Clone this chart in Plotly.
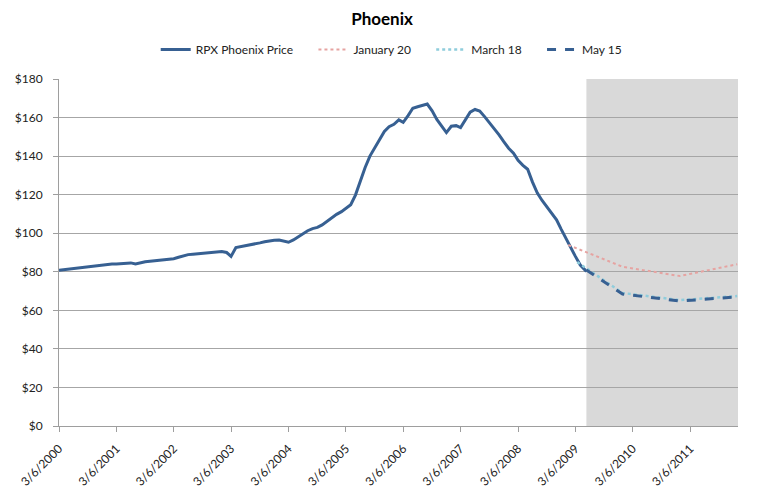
import pandas as pd
import plotly.graph_objects as go

# RPX Phoenix composite price, monthly readings from 3/6/2000, plus the 5/15/2009 print
price_start = "2000-03-06"
price_values = [
    80.8, 81.1, 81.4, 81.7, 82.0, 82.2, 82.6, 83.0, 83.3, 83.6, 83.9, 84.0,
    84.0, 84.2, 84.4, 84.6, 84.0, 84.8, 85.2, 85.5, 85.7, 85.9, 86.2, 86.4,
    86.8, 87.5, 88.2, 88.9, 89.1, 89.4, 89.6, 89.9, 90.1, 90.3, 90.5, 90.0,
    88.0, 92.6, 93.0, 93.4, 93.8, 94.4, 95.0, 95.6, 96.1, 96.3, 96.5, 96.0,
    95.3, 96.5, 98.2, 99.8, 101.3, 102.4, 103.0, 104.3, 106.2, 108.2, 109.8, 111.2,
    113.0, 114.8, 119.8, 127.3, 134.0, 140.0, 144.5, 148.8, 152.8, 155.3, 156.5, 158.8,
    157.5, 161.0, 164.8, 165.6, 166.2, 167.0, 163.5, 159.0, 155.5, 152.2, 155.5, 155.8,
    154.8, 158.7, 162.8, 164.2, 163.4, 160.5, 157.5, 154.6, 151.0, 147.5, 144.1, 141.5,
    137.8, 135.2, 133.2, 126.5, 121.0, 117.0, 113.5, 110.5, 107.0, 102.0, 97.0, 92.0,
    88.0, 83.5, 81.0,
]
last_date = "2009-05-15"
last_value = 80.2

# Futures-implied paths, quoted on three dates
jan20_dates = ["2009-01-20", "2009-12-31", "2010-12-31", "2011-12-31"]
jan20_values = [93.9, 82.6, 77.8, 83.9]

mar18_dates = ["2009-03-18", "2009-12-31", "2010-12-31", "2011-12-31"]
mar18_values = [85.0, 69.0, 65.3, 67.4]

may15_dates = ["2009-05-15", "2009-12-31", "2010-12-31", "2011-12-31"]
may15_values = [80.9, 68.5, 64.8, 67.0]

tick_dates = [f"{y}-03-06" for y in range(2000, 2012)]
tick_text = [f"3/6/{y}" for y in range(2000, 2012)]

forecast_start = "2009-05-15"
x_end = "2012-01-05"

price_dates = list(pd.date_range(price_start, periods=len(price_values),
                                 freq=pd.DateOffset(months=1)))
price_dates.append(pd.Timestamp(last_date))
price_all = price_values + [last_value]

BLUE = "#376092"
font_family = "Lato, 'Open Sans', Arial, sans-serif"
PAD = "\u00a0" * 5  # extra room between legend entries

fig = go.Figure()

fig.add_trace(go.Scatter(
    x=price_dates, y=price_all, mode="lines", name="RPX Phoenix Price" + PAD,
    line=dict(color=BLUE, width=3),
))
fig.add_trace(go.Scatter(
    x=jan20_dates, y=jan20_values, mode="lines", name="January 20" + PAD,
    line=dict(color="#E6A3A1", width=2, dash="dot"),
))
fig.add_trace(go.Scatter(
    x=mar18_dates, y=mar18_values, mode="lines", name="March 18" + PAD,
    line=dict(color="#8FCDDC", width=2.5, dash="dot"),
))
fig.add_trace(go.Scatter(
    x=may15_dates, y=may15_values, mode="lines", name="May 15",
    line=dict(color=BLUE, width=3, dash="dash"),
))

# Shaded forecast window
fig.add_shape(
    type="rect", xref="x", yref="paper",
    x0=forecast_start, x1=x_end, y0=0, y1=1,
    fillcolor="#D9D9D9", line=dict(width=0), layer="below",
)

fig.update_layout(
    width=764, height=493,
    margin=dict(l=59, r=26, t=79, b=67),
    paper_bgcolor="white", plot_bgcolor="white",
    font=dict(family=font_family, size=12, color="#222222"),
    title=dict(text="<b>Phoenix</b>", x=0.5, xanchor="center", y=0.962, yanchor="middle",
               font=dict(size=17, color="black", family=font_family)),
    legend=dict(orientation="h", x=0.49, xanchor="center", y=1.085, yanchor="middle",
                font=dict(size=12), itemwidth=30, tracegroupgap=0),
    showlegend=True,
)

fig.update_xaxes(
    type="date", range=[price_start, x_end], automargin=False,
    tickvals=tick_dates, ticktext=tick_text, tickangle=-45,
    showgrid=False, showline=True, linecolor="#9E9E9E", linewidth=1,
    ticks="outside", ticklen=5, tickcolor="#9E9E9E", ticklabelstandoff=5,
    tickfont=dict(size=12, color="#222222"),
)
fig.update_yaxes(
    range=[0, 180], dtick=20, tickprefix="$", automargin=False,
    showgrid=True, gridcolor="#A6A6A6", gridwidth=1,
    showline=True, linecolor="#9E9E9E", linewidth=1,
    ticks="outside", ticklen=5, tickcolor="#9E9E9E", ticklabelstandoff=8,
    zeroline=False, tickfont=dict(size=12, color="#222222"),
)

fig.write_html("out.html")
